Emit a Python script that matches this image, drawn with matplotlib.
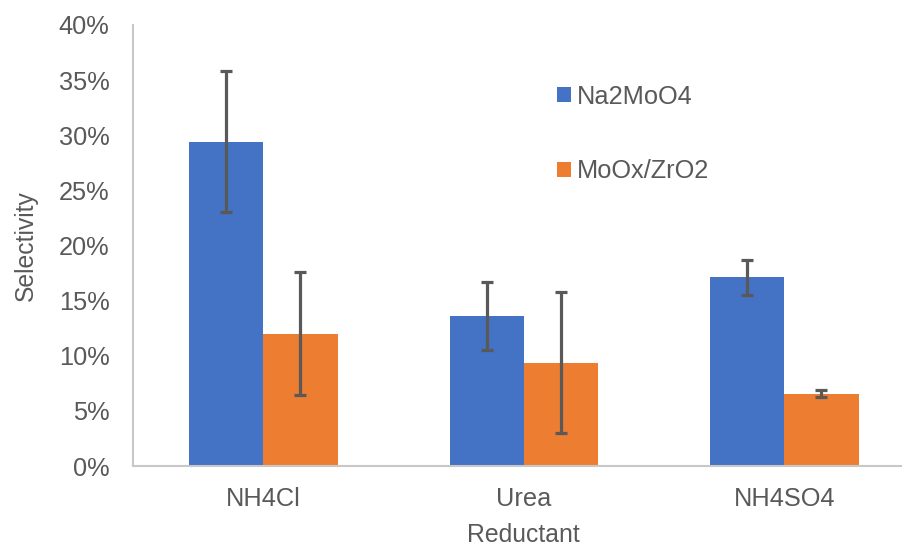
import matplotlib
matplotlib.use("Agg")
import matplotlib.pyplot as plt
from matplotlib.patches import Patch
import numpy as np

plt.rcParams['font.family'] = ['Liberation Sans', 'DejaVu Sans']

categories = ["NH4Cl", "Urea", "NH4SO4"]
series_names = ["Na2MoO4", "MoOx/ZrO2"]
na2moo4 = [29.4, 13.6, 17.1]
na2moo4_err = [6.4, 3.1, 1.6]
moox_zro2 = [12.0, 9.35, 6.55]
moox_zro2_err = [5.6, 6.4, 0.32]
y_ticks = [0, 5, 10, 15, 20, 25, 30, 35, 40]

blue = "#4472C4"
orange = "#ED7D31"
text_gray = "#595959"
axis_gray = "#C8C8C8"
fs = 18.3

W, H = 903, 548
fig = plt.figure(figsize=(W / 100, H / 100), dpi=100)
ax = fig.add_axes([133 / W, (H - 466) / H, (914.6 - 133) / W, (466 - 25) / H])

x = np.arange(len(categories))
width = 0.285
err_kw = dict(ecolor="#595959", elinewidth=2.3, capsize=4.3, capthick=2.3)
ax.bar(x - width / 2, na2moo4, width, color=blue, yerr=na2moo4_err,
       error_kw=err_kw, label=series_names[0], zorder=2)
ax.bar(x + width / 2, moox_zro2, width, color=orange, yerr=moox_zro2_err,
       error_kw=err_kw, label=series_names[1], zorder=2)

ax.set_xlim(-0.5, 2.5)
ax.set_ylim(0, 40)
ax.set_yticks(y_ticks)
ax.set_yticklabels([f"{t}%" for t in y_ticks])
ax.set_xticks(x)
ax.set_xticklabels(categories)
ax.tick_params(axis="both", length=0, labelsize=fs, colors=text_gray)
ax.tick_params(axis="y", pad=17)
ax.tick_params(axis="x", pad=15)

for side in ("top", "right"):
    ax.spines[side].set_visible(False)
for side in ("left", "bottom"):
    ax.spines[side].set_color(axis_gray)
    ax.spines[side].set_linewidth(1.5)

ax.set_xlabel("Reductant", fontsize=fs - 0.5, color=text_gray, labelpad=9)
ax.set_ylabel("Selectivity", fontsize=fs - 0.5, color=text_gray, labelpad=15)

handles = [Patch(facecolor=blue, edgecolor="none"),
           Patch(facecolor=orange, edgecolor="none")]
leg = fig.legend(handles, series_names, loc="center left",
                 bbox_to_anchor=(557 / W, 1 - 134 / H), frameon=False,
                 fontsize=fs, handlelength=0.55, handleheight=0.55,
                 handletextpad=0.25, labelspacing=2.0, borderpad=0,
                 borderaxespad=0)
for t in leg.get_texts():
    t.set_color(text_gray)

fig.savefig("out.png", dpi=100, facecolor="white")
